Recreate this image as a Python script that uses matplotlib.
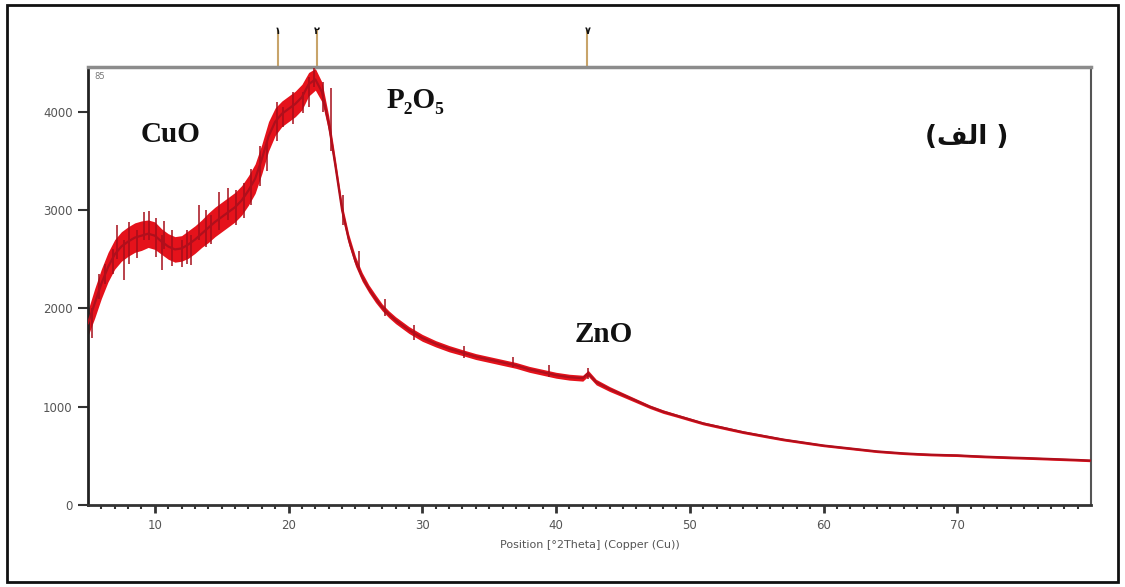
import matplotlib
matplotlib.use('Agg')
import matplotlib.pyplot as plt
import matplotlib.patches as mpatches
import numpy as np

# XRD pattern: 2theta, centre of the trace, half-width of the noise
two_theta = [5.0, 5.5, 6.0, 6.5, 7.0, 7.5, 8.0, 8.5, 9.0, 9.5,
             10.0, 10.5, 11.0, 11.5, 12.0, 12.5, 13.0, 13.5, 14.0, 14.5,
             15.0, 15.5, 16.0, 16.5, 17.0, 17.5, 18.0, 18.5, 19.0, 19.5,
             20.0, 20.5, 21.0, 21.5, 22.0, 22.5, 23.0, 23.5, 24.0, 24.5,
             25.0, 25.5, 26.0, 26.5, 27.0, 27.5, 28.0, 28.5, 29.0, 29.5,
             30, 31, 32, 33, 34, 35, 36, 37, 38, 39,
             40, 41, 42, 42.4, 43, 44, 45, 46, 47, 48, 49,
             50, 51, 52, 53, 54, 55, 56, 57, 58, 59,
             60, 61, 62, 63, 64, 65, 66, 67, 68, 69,
             70, 71, 72, 73, 74, 75, 76, 77, 78, 79, 80]
counts = [1850, 2050, 2250, 2420, 2550, 2630, 2680, 2720, 2740, 2760,
          2740, 2680, 2630, 2600, 2610, 2650, 2700, 2760, 2820, 2880,
          2930, 2980, 3030, 3100, 3200, 3320, 3520, 3750, 3900, 3980,
          4030, 4080, 4150, 4280, 4330, 4200, 3880, 3450, 3000, 2700,
          2480, 2320, 2200, 2100, 2010, 1940, 1880, 1830, 1780, 1740,
          1700, 1640, 1590, 1550, 1510, 1480, 1450, 1420, 1380, 1350,
          1320, 1300, 1290, 1340, 1250, 1180, 1120, 1060, 1000, 950, 910,
          870, 830, 800, 770, 740, 715, 690, 665, 645, 625,
          605, 590, 575, 560, 545, 535, 525, 518, 512, 508,
          505, 498, 492, 487, 482, 478, 473, 468, 463, 458, 452]
spread = [130, 150, 150, 150, 150, 150, 150, 150, 150, 140,
          140, 130, 130, 130, 130, 140, 140, 140, 150, 150,
          150, 150, 150, 150, 150, 150, 150, 150, 140, 130,
          130, 130, 130, 120, 110, 100, 80, 70, 60, 55,
          50, 45, 40, 40, 35, 35, 35, 35, 35, 35,
          35, 32, 32, 30, 30, 30, 30, 30, 30, 30,
          30, 30, 30, 30, 28, 25, 22, 20, 18, 18, 16,
          16, 15, 15, 15, 14, 14, 14, 13, 13, 13,
          12, 12, 12, 12, 12, 12, 12, 12, 12, 12,
          12, 12, 12, 12, 12, 12, 12, 12, 12, 12, 12]

# single-step spikes visible in the noisy part of the trace
spike_theta = [5.3, 5.8, 6.3, 6.9, 7.2, 7.7, 8.1, 8.7, 9.2, 9.6,
               10.1, 10.5, 10.7, 11.3, 12.0, 12.4, 12.7, 13.3, 13.8, 14.2,
               14.8, 15.5, 16.1, 16.7, 17.2, 17.9, 18.4, 19.1, 19.6, 20.3,
               21.1, 21.5, 21.9, 22.6, 23.2, 24.1, 25.3, 27.2, 29.4, 33.1,
               36.8, 39.5, 42.4]
spike_lo = [1700, 2100, 2250, 2350, 2500, 2290, 2450, 2510, 2700, 2700,
            2520, 2390, 2600, 2430, 2420, 2450, 2440, 2700, 2620, 2660,
            2800, 2900, 2850, 2920, 3050, 3250, 3400, 3700, 3850, 3880,
            3990, 4050, 4250, 4000, 3600, 2850, 2380, 1920, 1680, 1500,
            1400, 1300, 1280]
spike_hi = [2000, 2350, 2450, 2600, 2850, 2700, 2880, 2800, 2980, 2990,
            2920, 2750, 2890, 2800, 2700, 2800, 2750, 3050, 3000, 2950,
            3180, 3220, 3200, 3280, 3420, 3650, 3700, 4100, 4050, 4200,
            4200, 4350, 4445, 4300, 4240, 3150, 2580, 2100, 1830, 1620,
            1510, 1420, 1390]

# reference sticks on top of the plot
ref_theta = [19.2, 22.1, 42.35]
ref_tags = ['۱', '۲', '۷']

phase_labels = ['CuO', 'P₂O₅', 'ZnO']
phase_x = [11.2, 29.5, 43.6]
phase_y = [3764, 4120, 1730]
panel_tag = '(\uFED2\uFEDF\uFE8D )'  # "(الف)" in visual order

fig = plt.figure(figsize=(11.25, 5.87), dpi=100)
ax = fig.add_axes([0.0782, 0.1397, 0.8916, 0.7462])

theta = np.array(two_theta)
mid = np.array(counts)
half = np.array(spread)

ax.fill_between(theta, mid - half, mid + half, color='#e5121b', lw=0, zorder=2)
ax.vlines(spike_theta, spike_lo, spike_hi, color='#a50e1a', lw=1.1, zorder=3)
ax.plot(theta, mid, color='#b00f1c', lw=1.6, zorder=4)

ax.set_xlim(5, 80)
ax.set_ylim(0, 4456)
ax.set_xticks([10, 20, 30, 40, 50, 60, 70])
ax.set_xticks(np.arange(6, 80, 1), minor=True)
ax.set_yticks([0, 1000, 2000, 3000, 4000])

ax.tick_params(axis='x', which='major', direction='out', length=6, width=2,
               color='#333333', labelcolor='#555555', labelsize=8.5, pad=4)
ax.tick_params(axis='x', which='minor', direction='out', length=3, width=1.5,
               color='#333333')
ax.tick_params(axis='y', which='major', direction='out', length=7, width=1.5,
               color='#333333', labelcolor='#555555', labelsize=8.5, pad=4)

ax.spines['left'].set_linewidth(2)
ax.spines['left'].set_color('#222222')
ax.spines['bottom'].set_linewidth(2)
ax.spines['bottom'].set_color('#333333')
ax.spines['top'].set_linewidth(2.5)
ax.spines['top'].set_color('#8c8c8c')
ax.spines['right'].set_linewidth(1.5)
ax.spines['right'].set_color('#555555')

ax.set_xlabel('Position [°2Theta] (Copper (Cu))', fontsize=8, color='#555555',
              labelpad=6)

# small count scale note in the corner
ax.text(0.006, 0.988, '85', transform=ax.transAxes, fontsize=6, color='#777777',
        ha='left', va='top')

# reference sticks above the frame
trans = ax.get_xaxis_transform()
ax.vlines(ref_theta, 1.0, 1.085, transform=trans, color='#c8a46a', lw=1.5,
          clip_on=False)
for t, tag in zip(ref_theta, ref_tags):
    ax.text(t, 1.083, tag, transform=trans, ha='center', va='center',
            fontsize=7, fontweight='bold', color='#111111', clip_on=False)

serif = ['Liberation Serif', 'DejaVu Serif']
for lab, x, y in zip(phase_labels, phase_x, phase_y):
    ax.text(x, y, lab, ha='center', va='center', fontsize=21,
            fontweight='bold', family=serif, color='#111111')

ax.text(70.7, 3744, panel_tag, ha='center', va='center', fontsize=19,
        fontweight='bold', family=['DejaVu Sans'], color='#111111')

# outer frame around the whole picture
fig.patches.append(mpatches.Rectangle((0.0062, 0.0085), 0.9876, 0.983,
                                      transform=fig.transFigure, fill=False,
                                      edgecolor='#111111', lw=2))

fig.savefig('out.png', dpi=100)
